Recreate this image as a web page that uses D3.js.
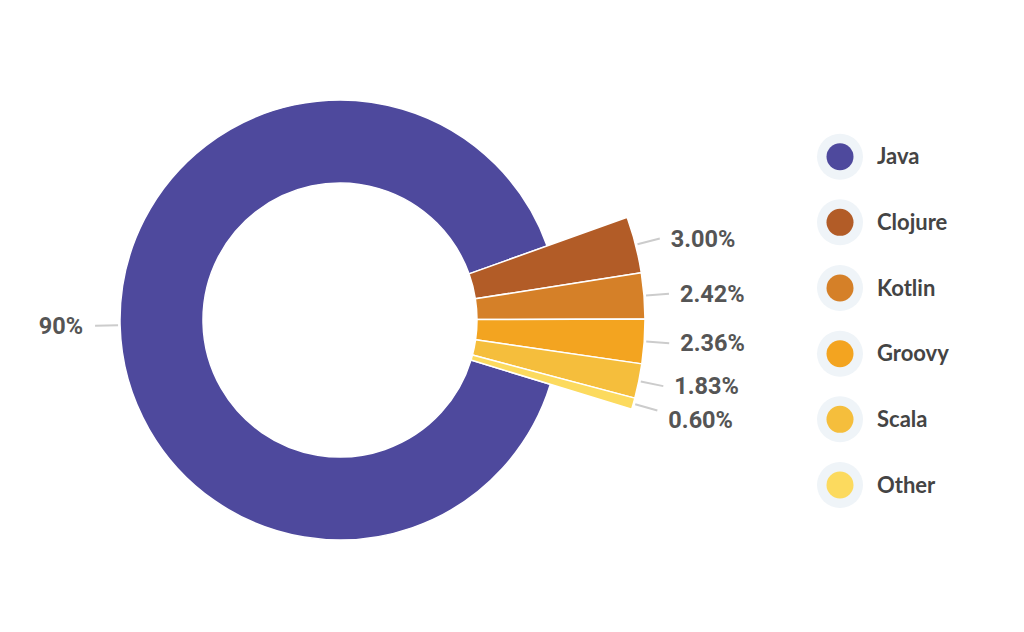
<!DOCTYPE html>
<html>
<head>
<meta charset="utf-8">
<script src="https://cdn.jsdelivr.net/npm/d3@7/dist/d3.min.js"></script>
<style>
  html, body { margin: 0; padding: 0; background: #ffffff; }
  svg { display: block; }
</style>
</head>
<body>
<svg id="chart" width="1024" height="632"></svg>
<script>
const categories = ["Java", "Clojure", "Kotlin", "Groovy", "Scala", "Other"];
const values = [90, 3.00, 2.42, 2.36, 1.83, 0.60];
const valueLabels = ["90%", "3.00%", "2.42%", "2.36%", "1.83%", "0.60%"];
const colors = ["#4e499d", "#b25c27", "#d58028", "#f3a420", "#f5be3c", "#fcda5e"];

const data = categories.map((c, i) => ({ name: c, value: values[i], label: valueLabels[i], color: colors[i] }));

const svg = d3.select("#chart");
const cx = 340, cy = 320;
const innerR = 137;
const bigR = 220;
const smallR = 305;
const outerFor = d => d.data.value >= 50 ? bigR : smallR;

const startDeg = 107;
const pie = d3.pie().value(d => d.value).sort(null)
  .startAngle(startDeg * Math.PI / 180)
  .endAngle((startDeg + 360) * Math.PI / 180);
const arcs = pie(data);

const g = svg.append("g").attr("transform", `translate(${cx},${cy})`);

g.selectAll("path.slice").data(arcs).enter().append("path")
  .attr("class", "slice")
  .attr("d", d => d3.arc().innerRadius(innerR).outerRadius(outerFor(d))(d))
  .attr("fill", d => d.data.color)
  .attr("stroke", "#ffffff")
  .attr("stroke-width", 1.5)
  .attr("stroke-linejoin", "round");

// labels
const tickLen = 24;
const labelInfo = arcs.map(d => {
  const a = (d.startAngle + d.endAngle) / 2;
  const r0 = outerFor(d) + 2;
  const r1 = outerFor(d) + tickLen + 1;
  const sx = Math.sin(a), sy = -Math.cos(a);
  return {
    d, a,
    x0: r0 * sx, y0: r0 * sy,
    x1: r1 * sx, y1: r1 * sy,
    right: sx >= 0,
    ty: r1 * sy
  };
});
// simple collision avoidance on the right side
const rightLabels = labelInfo.filter(l => l.right).sort((a, b) => a.ty - b.ty);
const minGap = 34;
for (let i = 1; i < rightLabels.length; i++) {
  if (rightLabels[i].ty < rightLabels[i - 1].ty + minGap) {
    rightLabels[i].ty = rightLabels[i - 1].ty + minGap;
  }
}

g.selectAll("line.tick").data(labelInfo).enter().append("line")
  .attr("class", "tick")
  .attr("x1", l => l.x0).attr("y1", l => l.y0)
  .attr("x2", l => l.x1).attr("y2", l => l.y1)
  .attr("stroke", "#cccccc")
  .attr("stroke-width", 2);

g.selectAll("text.vlabel").data(labelInfo).enter().append("text")
  .attr("class", "vlabel")
  .attr("x", l => l.right ? l.x1 + 11 : l.x1 - 12)
  .attr("y", l => l.ty)
  .attr("dy", "0.35em")
  .attr("text-anchor", l => l.right ? "start" : "end")
  .attr("font-family", "Roboto, 'Liberation Sans', sans-serif")
  .attr("font-weight", 700)
  .attr("font-size", 23.5)
  .attr("fill", "#555555")
  .text(l => l.d.data.label);

// legend
const legendY = d3.scalePoint().domain(categories).range([156.7, 485]);
const legendX = 840;
const lg = svg.append("g");
const items = lg.selectAll("g.item").data(data).enter().append("g")
  .attr("class", "item")
  .attr("transform", d => `translate(${legendX},${legendY(d.name)})`);
items.append("circle").attr("r", 23).attr("fill", "#eff4f8");
items.append("circle").attr("r", 13.5).attr("fill", d => d.color);
items.append("text")
  .attr("x", 37)
  .attr("y", 0)
  .attr("dy", "0.35em")
  .attr("font-family", "Lato, 'Open Sans', sans-serif")
  .attr("font-weight", 700)
  .attr("font-size", 22)
  .attr("fill", "#444444")
  .text(d => d.name);
</script>
</body>
</html>
